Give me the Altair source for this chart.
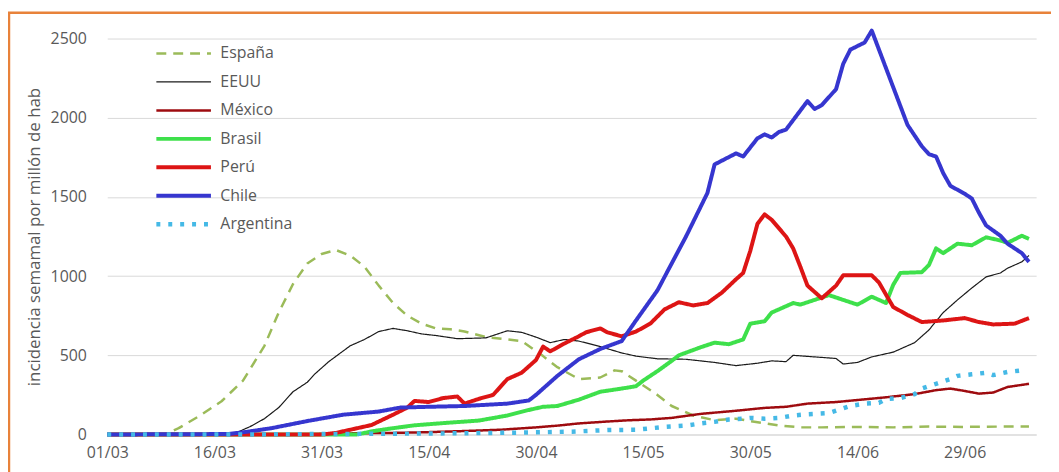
import altair as alt
import pandas as pd

series = ["España", "EEUU", "México", "Brasil", "Perú", "Chile", "Argentina"]
colors = ["#9BBB59", "#1A1A1A", "#9E0B0F", "#3EE04B", "#DD1515", "#3636CF", "#45B9E6"]
dashes = [[10, 7], [1, 0], [1, 0], [1, 0], [1, 0], [1, 0], [4, 8]]
widths = [2.5, 1.2, 2.5, 4, 4, 4, 4.5]

tick_labels = ["01/03", "16/03", "31/03", "15/04", "30/04", "15/05", "30/05", "14/06", "29/06"]

# day offsets from 01/03/2020 and weekly incidence per million
espana_days = [0, 8, 10, 13, 16, 19, 22, 24, 26, 28, 30, 32, 34, 36, 38, 40, 42, 44, 46, 48, 50, 53, 56, 58, 61, 63, 66, 69, 71, 72, 74, 77, 79, 82, 85, 88, 90, 94, 97, 100, 105, 110, 115, 120, 125, 129]
espana_vals = [0, 0, 40, 120, 210, 340, 560, 770, 950, 1080, 1140, 1165, 1130, 1060, 940, 830, 750, 700, 670, 665, 650, 615, 600, 590, 495, 425, 350, 360, 405, 400, 340, 250, 180, 120, 90, 100, 85, 57, 45, 45, 48, 45, 50, 48, 50, 50]

eeuu_days = [0, 17, 18, 20, 22, 24, 26, 28, 29, 31, 34, 36, 38, 40, 42, 44, 46, 49, 53, 56, 58, 60, 62, 64, 66, 69, 72, 74, 77, 81, 85, 88, 91, 93, 95, 96, 99, 102, 103, 105, 107, 110, 113, 115, 117, 119, 121, 123, 125, 126, 128, 129]
eeuu_vals = [0, 0, 10, 50, 100, 170, 270, 330, 380, 460, 560, 600, 650, 670, 655, 635, 625, 605, 610, 655, 645, 615, 580, 600, 590, 555, 515, 495, 478, 475, 455, 435, 450, 465, 460, 500, 490, 480, 445, 455, 490, 520, 580, 660, 770, 850, 925, 995, 1020, 1050, 1090, 1130]

mexico_days = [0, 28, 30, 35, 40, 45, 50, 55, 60, 63, 66, 70, 73, 76, 79, 83, 88, 92, 95, 98, 102, 106, 109, 113, 116, 118, 120, 122, 124, 126, 129]
mexico_vals = [0, 0, 3, 8, 10, 15, 22, 30, 45, 56, 70, 82, 90, 95, 105, 130, 150, 168, 175, 195, 205, 222, 235, 255, 280, 290, 275, 258, 265, 300, 320]

brasil_days = [0, 35, 37, 40, 43, 47, 52, 56, 59, 61, 63, 66, 69, 72, 74, 75, 77, 79, 80, 83, 85, 87, 89, 90, 92, 93, 96, 97, 99, 101, 103, 105, 107, 109, 110, 111, 114, 115, 116, 117, 119, 121, 123, 125, 126, 128, 129]
brasil_vals = [0, 0, 20, 40, 58, 72, 88, 120, 155, 175, 180, 220, 270, 290, 305, 340, 400, 465, 500, 550, 580, 570, 600, 700, 715, 770, 830, 820, 850, 880, 850, 820, 870, 830, 945, 1020, 1025, 1070, 1175, 1145, 1205, 1195, 1245, 1225, 1210, 1255, 1235]

peru_days = [0, 30, 32, 34, 37, 40, 42, 43, 45, 47, 49, 50, 52, 54, 56, 58, 60, 61, 62, 64, 66, 67, 69, 70, 72, 74, 76, 78, 80, 82, 84, 86, 88, 89, 90, 91, 92, 93, 95, 96, 97, 98, 100, 102, 103, 107, 108, 110, 112, 114, 117, 120, 122, 124, 127, 129]
peru_vals = [0, 0, 10, 30, 60, 125, 170, 212, 205, 230, 240, 195, 225, 250, 350, 390, 470, 555, 525, 575, 620, 645, 670, 645, 620, 650, 700, 790, 835, 815, 830, 895, 980, 1020, 1160, 1330, 1390, 1355, 1250, 1175, 1060, 940, 860, 940, 1005, 1005, 960, 805, 755, 710, 720, 735, 710, 695, 700, 735]

chile_days = [0, 17, 20, 23, 28, 33, 38, 41, 45, 50, 56, 59, 60, 63, 66, 69, 72, 74, 77, 79, 81, 84, 85, 88, 89, 91, 92, 93, 94, 95, 96, 98, 99, 100, 102, 103, 104, 106, 107, 112, 114, 115, 116, 117, 118, 120, 121, 122, 123, 125, 126, 128, 129]
chile_vals = [0, 3, 20, 40, 85, 125, 145, 170, 175, 180, 195, 215, 250, 370, 475, 540, 590, 720, 910, 1080, 1250, 1525, 1705, 1775, 1755, 1870, 1895, 1875, 1910, 1925, 1985, 2105, 2055, 2080, 2180, 2340, 2430, 2475, 2550, 1955, 1820, 1770, 1755, 1650, 1570, 1520, 1490, 1400, 1320, 1255, 1205, 1145, 1090]

argentina_days = [0, 20, 25, 30, 40, 50, 58, 65, 70, 74, 78, 81, 83, 85, 87, 89, 90, 92, 94, 96, 98, 101, 103, 104, 106, 108, 109, 111, 113, 114, 116, 118, 119, 121, 123, 124, 126, 128]
argentina_vals = [0, 0, 2, 3, 5, 8, 12, 18, 28, 30, 48, 56, 70, 80, 95, 100, 105, 100, 105, 120, 128, 135, 165, 180, 195, 200, 225, 230, 255, 290, 320, 350, 370, 380, 390, 375, 395, 405]

all_days = [espana_days, eeuu_days, mexico_days, brasil_days, peru_days, chile_days, argentina_days]
all_vals = [espana_vals, eeuu_vals, mexico_vals, brasil_vals, peru_vals, chile_vals, argentina_vals]

start = pd.Timestamp("2020-03-01")
rows = []
for name, ds, vs in zip(series, all_days, all_vals):
    for d, v in zip(ds, vs):
        rows.append({"fecha": start + pd.Timedelta(days=d), "serie": name, "valor": v})
df = pd.DataFrame(rows)

tick_dates = [alt.DateTime(year=2020, month=int(t[3:]), date=int(t[:2])) for t in tick_labels]

W, H = 936, 399

lines = alt.Chart(df).mark_line(strokeJoin="round").encode(
    x=alt.X("fecha:T",
            scale=alt.Scale(domain=[alt.DateTime(year=2020, month=3, date=1),
                                    alt.DateTime(year=2020, month=7, date=9)]),
            axis=alt.Axis(values=tick_dates, format="%d/%m", title=None, grid=False,
                          ticks=False, tickSize=0, labelPadding=10, domainColor="#D9D9D9",
                          labelFlush=False, labelOverlap=False)),
    y=alt.Y("valor:Q",
            scale=alt.Scale(domain=[0, 2500], nice=False),
            axis=alt.Axis(values=[0, 500, 1000, 1500, 2000, 2500], format="d",
                          title="incidencia semamal por millón de hab",
                          domain=False, ticks=False, tickSize=0, labelPadding=21,
                          titleX=-73, titleY=H / 2, titleAngle=-90, titleAlign="center",
                          titleBaseline="middle")),
    color=alt.Color("serie:N", scale=alt.Scale(domain=series, range=colors),
                    legend=alt.Legend(title=None)),
    strokeDash=alt.StrokeDash("serie:N", scale=alt.Scale(type="ordinal", domain=series, range=dashes),
                              legend=alt.Legend(title=None)),
    strokeWidth=alt.StrokeWidth("serie:N", scale=alt.Scale(type="ordinal", domain=series, range=widths),
                                legend=alt.Legend(title=None)),
)

frame = alt.Chart(pd.DataFrame({"k": [0]})).mark_rect(
    fill="transparent", stroke="#E8823A", strokeWidth=2.5
).encode(x=alt.value(-99), x2=alt.value(960), y=alt.value(-26), y2=alt.value(460))

chart = alt.layer(frame, lines).properties(
    width=W, height=H,
    autosize=alt.AutoSizeParams(type="none"),
    padding={"left": 100, "top": 29, "right": 15, "bottom": 36},
    background="white",
).configure_view(stroke=None).configure_axis(
    labelFont="Open Sans", labelFontSize=16, labelColor="#595959",
    titleFont="Open Sans", titleFontSize=17, titleFontWeight="normal", titleColor="#595959",
    gridColor="#D9D9D9", gridWidth=1,
).configure_legend(
    orient="none", legendX=47, legendY=4, symbolType="stroke", symbolSize=3025,
    labelFont="Open Sans", labelFontSize=16, labelColor="#595959", labelOffset=7,
    clipHeight=22, rowPadding=6.7, padding=0, symbolOpacity=1,
)

chart.save("out.html", embed_options={"renderer": "svg", "actions": False})
